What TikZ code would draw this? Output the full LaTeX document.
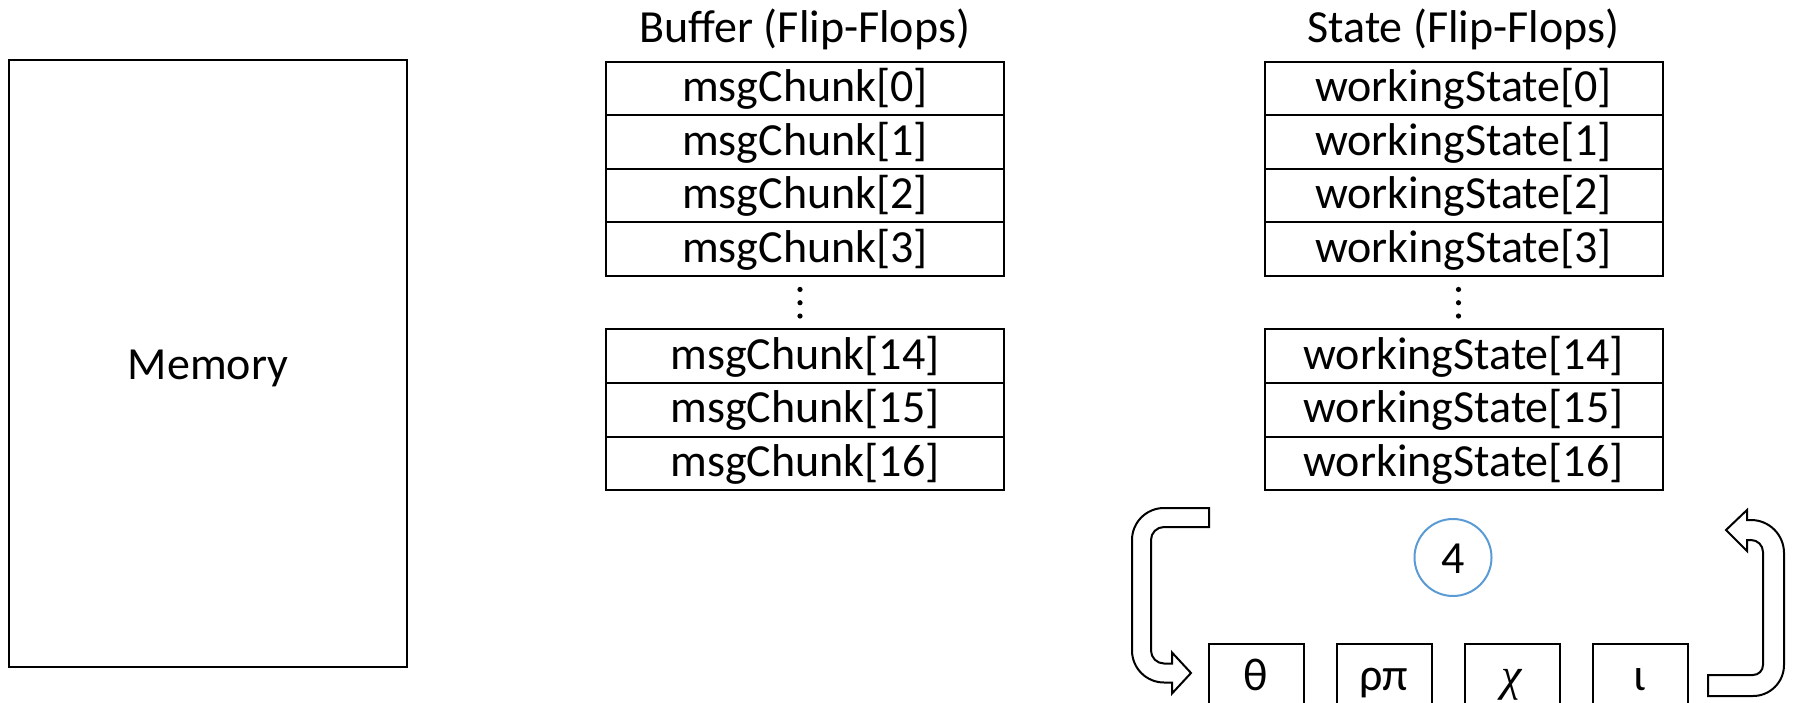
\documentclass[tikz,border=0pt]{standalone}
\usepackage{fontspec}
\setmainfont{Carlito}
\newfontfamily\chifont{Liberation Serif}
\usepackage{tikz}
\usetikzlibrary{positioning}

\definecolor{ringblue}{RGB}{91,155,213}

\begin{document}
\begin{tikzpicture}[x=1pt, y=1pt,
    cell/.style={draw, line width=2pt, outer sep=0pt, inner sep=0pt, minimum width=398pt, minimum height=53.5pt, text height=32pt, text depth=6pt},
    title/.style={inner sep=0pt, text depth=0pt},
    membox/.style={draw, line width=2.6pt, minimum width=398pt, minimum height=607pt, text height=31pt, text depth=0pt},
    op/.style={draw, line width=2pt, outer sep=0pt, minimum width=95pt, inner ysep=16pt, text height=30pt, text depth=10pt},
    ring/.style={circle, draw=ringblue, line width=2pt, minimum size=77pt, inner sep=0pt, text height=31pt, text depth=0pt},
    blockarrow/.style={draw, fill=white, line width=2pt, line join=miter},
    every node/.style={font=\fontsize{46}{55}\selectfont}
    ]
    \useasboundingbox (0,0) rectangle (1797,-703);
    \clip (0,0) rectangle (1797,-703);

    \node[membox] (mem) at (208,-363.5) {Memory};

    \def\rows{0,1,2,3,dots,14,15,16}
    \foreach \col/\txt/\cx/\ttl in {b/msgChunk/805/Buffer, s/workingState/1463.5/State} {
        \def\prev{0}
        \foreach \row[count=\ri from 0, remember=\row as \prev] in \rows {
            % stack the registers of this column
            \ifnum \ri = 0
            \node[cell, anchor=north] (\col\row) at (\cx,-62) {\txt[\row]};
            \else
            \ifnum \ri = 4
            % gap with the three dots
            \node[cell, draw=none, below=0pt of \col\prev] (\col\row) {};
            \foreach \dy in {-13.3,0,13.3}
                \fill ([shift={(-5pt,\dy pt)}]\col\row.center) circle (2.6pt);
            \else
            \node[cell, below=0pt of \col\prev] (\col\row) {\txt[\row]};
            \fi
            \fi
        }
        \node[title, above=19pt of \col0] (\col title) {\ttl\ (Flip-Flops)};
    }

    % round steps
    \def\prevg{}
    \foreach \g/\sym[count=\gi from 0, remember=\g as \prevg] in {theta/θ, rhopi/ρπ, chi/{\chifont\itshape χ}, iota/ι} {
        \ifnum \gi = 0
        \node[op, anchor=north west] (\g) at (1208.5,-644) {\sym};
        \else
        \node[op, right=33pt of \prevg] (\g) {\sym};
        \fi
    }

    \node[ring] (four) at (1453,-557.5) {4};

    % hollow return arrows
    \draw[blockarrow] (1209,-508) -- (1164,-508) arc[start angle=90, end angle=180, radius=32pt]
        -- (1132,-650.5) arc[start angle=180, end angle=270, radius=32pt]
        -- (1172,-682.5) -- (1172,-693.5) -- (1191,-673) -- (1172,-652.5) -- (1172,-663.5)
        -- (1164,-663.5) arc[start angle=270, end angle=180, radius=13pt]
        -- (1151,-540) arc[start angle=180, end angle=90, radius=13pt]
        -- (1209,-527) -- cycle;
    \draw[blockarrow] (1708,-675) -- (1753,-675) arc[start angle=270, end angle=360, radius=10pt]
        -- (1763,-552) arc[start angle=0, end angle=90, radius=12pt]
        -- (1747,-540) -- (1747,-551) -- (1726,-530) -- (1747,-510) -- (1747,-520)
        -- (1751,-520) arc[start angle=90, end angle=0, radius=33pt]
        -- (1784,-665) arc[start angle=0, end angle=-90, radius=31pt]
        -- (1708,-696) -- cycle;

\end{tikzpicture}
\end{document}
